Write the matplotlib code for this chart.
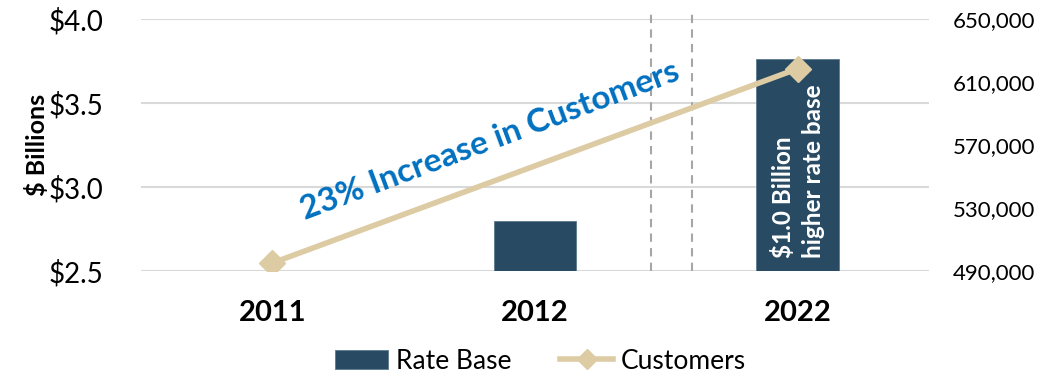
import matplotlib.pyplot as plt
from matplotlib.ticker import FuncFormatter

plt.rcParams['font.family'] = ['Lato', 'DejaVu Sans']

years = ['2011', '2012', '2022']
rate_base = [2.5, 2.80, 3.76]          # $ billions
customer_years = [0, 2]                # 2011 and 2022 only
customers = [495000, 618500]

navy = '#284B63'
tan = '#DDCBA4'
blue = '#0070C0'
grid = '#D9D9D9'

fig = plt.figure(figsize=(10.44, 3.81), dpi=100)
ax = fig.add_axes([0.135, 0.289, 0.755, 0.661])
ax2 = ax.twinx()

x = range(len(years))
bars = ax.bar(x, rate_base, width=0.315, color=navy, edgecolor='#5A7A90',
              linewidth=0.6, label='Rate Base', zorder=2)
ax.set_ylim(2.5, 4.0)
ax.set_yticks([2.5, 3.0, 3.5, 4.0])
ax.yaxis.set_major_formatter(FuncFormatter(lambda v, p: f'${v:.1f}'))
ax.set_xlim(-0.5, 2.5)
ax.set_xticks(list(x))
ax.set_xticklabels(years, fontsize=21, fontweight='bold')
ax.tick_params(axis='x', length=0, pad=21)
ax.tick_params(axis='y', length=0, pad=27, labelsize=20)
ax.grid(axis='y', color=grid, linewidth=1.5, zorder=0)
ax.set_axisbelow(True)
ax.set_ylabel('$ Billions', fontsize=18, fontweight='bold', labelpad=0)

# break in the time axis between 2012 and 2022
for xb in (1.441, 1.597):
    ax.plot([xb, xb], [2.5, 4.03], color='#A6A6A6', linewidth=1.5,
            linestyle=(0, (4, 3)), clip_on=False, zorder=3)

line, = ax2.plot(customer_years, customers, color=tan, linewidth=4,
                 marker='D', markersize=13, label='Customers', zorder=4)
ax2.set_ylim(490000, 650000)
ax2.set_yticks(range(490000, 650001, 40000))
ax2.yaxis.set_major_formatter(FuncFormatter(lambda v, p: f'{int(v):,}'))
ax2.tick_params(axis='y', length=0, pad=17, labelsize=16)

for a in (ax, ax2):
    for s in a.spines.values():
        s.set_visible(False)

ax2.text(0.83, 2.5 + 0.777, '23% Increase in Customers', color=blue,
         fontsize=24, fontweight='bold', rotation=20.5, rotation_mode='anchor',
         ha='center', va='center', zorder=5, transform=ax.transData)
ax2.text(2.0, 2.577, '$1.0 Billion\nhigher rate base', color='white',
         fontsize=17.5, fontweight='bold', rotation=90, ha='center',
         va='bottom', multialignment='left', linespacing=1.35, zorder=5,
         transform=ax.transData)

fig.legend([bars, line], ['Rate Base', 'Customers'], loc='center',
           bbox_to_anchor=(0.518, 0.052), ncol=2, frameon=False, fontsize=19,
           handlelength=2.0, handleheight=0.7, handletextpad=0.3,
           columnspacing=1.85, markerscale=0.75)

fig.savefig('out.png', dpi=100)
